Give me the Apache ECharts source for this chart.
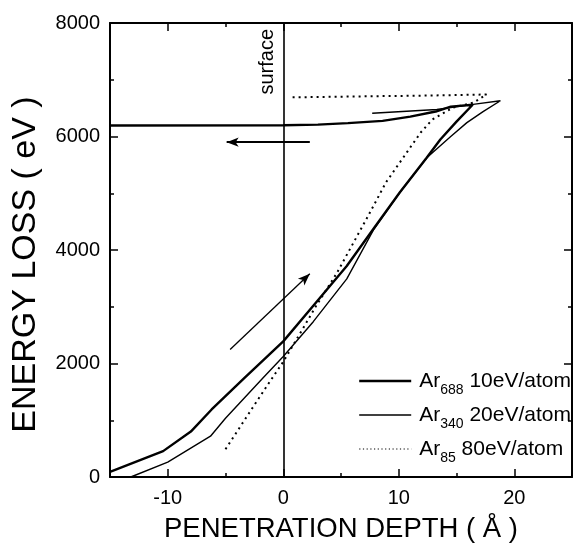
<!DOCTYPE html>
<html>
<head>
<meta charset="utf-8">
<script src="https://cdn.jsdelivr.net/npm/echarts@6/dist/echarts.min.js"></script>
<style>
html,body{margin:0;padding:0;background:#fff;}
#chart{width:573px;height:548px;}
</style>
</head>
<body>
<div id="chart"></div>
<script>
// ---- data ----
const xMajor = [-10, 0, 10, 20];
const xMinor = [-5, 5, 15];
const seriesNames = ['Ar688 10eV/atom', 'Ar340 20eV/atom', 'Ar85 80eV/atom'];
const legendMain = ['Ar', 'Ar', 'Ar'];
const legendSub = ['688', '340', '85'];
const legendRest = [' 10eV/atom', ' 20eV/atom', ' 80eV/atom'];

const ar688 = [[-15, 90], [-10.4, 456], [-8, 800], [-6.2, 1190], [-3.4, 1737], [0, 2390], [2.6, 3018], [5.5, 3719], [7.8, 4370], [10.1, 5017], [12.4, 5620], [13.6, 5947], [15, 6263], [16.4, 6560], [14.5, 6526], [13.2, 6440], [11, 6351], [8.6, 6275], [5.6, 6235], [3, 6210], [0, 6198], [-15, 6195]];
const ar340 = [[-13.2, 0], [-10, 263], [-6.3, 719], [-5, 1035], [-1.8, 1737], [0, 2123], [2.6, 2737], [5.5, 3491], [7.8, 4350], [10.1, 5017], [12.5, 5640], [14.5, 6000], [15.9, 6245], [17.3, 6439], [18.8, 6630], [16.6, 6570], [13.3, 6475], [7.7, 6410]];
const ar85 = [[-5, 490], [-2.4, 1300], [-1.1, 1700], [0, 2030], [1.7, 2614], [2.8, 3000], [4.6, 3580], [7.2, 4544], [8.9, 5193], [10.7, 5720], [11.9, 6070], [12.9, 6298], [14.7, 6509], [16.5, 6600], [17.6, 6740], [12, 6720], [6, 6705], [0.8, 6690]];

const surfaceX = 0;
const arrowIn = [[-4.6, 2246], [2.3, 3580]];
const arrowOut = [[2.3, 5900], [-4.9, 5900]];

// ---- chart ----
const FONT = '"Liberation Sans", Arial, Helvetica, sans-serif';
const chart = echarts.init(document.getElementById('chart'));

function xAx(pos, values, len, labels, withName) {
  return {
    type: 'value', position: pos, min: -15, max: 25, interval: 5,
    axisLine: { show: values === xMajor, onZero: false, lineStyle: { color: '#000', width: 2 } },
    axisTick: { show: true, inside: true, length: len, customValues: values, lineStyle: { color: '#000', width: 1.5 } },
    axisLabel: { show: labels, customValues: values, margin: 11, color: '#000', fontSize: 20, fontFamily: FONT },
    splitLine: { show: false },
    name: withName ? 'PENETRATION DEPTH ( Å )' : '',
    nameLocation: 'middle', nameGap: 38,
    nameTextStyle: { color: '#000', fontSize: 27.5, fontFamily: FONT }
  };
}
function yAx(pos, labels) {
  return {
    type: 'value', position: pos, min: 0, max: 8000, interval: 2000,
    axisLine: { show: true, onZero: false, lineStyle: { color: '#000', width: 2 } },
    axisTick: { show: true, inside: true, length: 8, lineStyle: { color: '#000', width: 1.5 } },
    minorTick: { show: true, splitNumber: 2, length: 4, lineStyle: { color: '#000', width: 1.5 } },
    axisLabel: { show: labels, margin: 10, color: '#000', fontSize: 20, fontFamily: FONT, formatter: function (v) { return String(v); } },
    splitLine: { show: false },
    name: labels ? 'ENERGY LOSS ( eV )' : '',
    nameLocation: 'middle', nameGap: 67,
    nameTextStyle: { color: '#000', fontSize: 34, fontFamily: FONT, padding: [0, 29, 0, 0] }
  };
}

const thick = { color: '#000', width: 2.4 };
const thin = { color: '#000', width: 1.4 };
const dots = { color: '#000', width: 2, type: [2, 4] };

const option = {
  animation: false,
  backgroundColor: '#fff',
  grid: { left: 110, right: 1, top: 23, bottom: 69, containLabel: false },
  xAxis: [
    xAx('bottom', xMajor, 8, true, true),
    xAx('bottom', xMinor, 4, false, false),
    xAx('top', xMajor, 8, false, false),
    xAx('top', xMinor, 4, false, false)
  ],
  yAxis: [yAx('left', true), yAx('right', false)],
  legend: {
    data: [
      { name: seriesNames[0], lineStyle: { width: 2.4 } },
      { name: seriesNames[1], lineStyle: { width: 1.4 } },
      { name: seriesNames[2], lineStyle: { width: 1.2, type: [1.2, 2.5] } }
    ],
    orient: 'vertical',
    left: 358, top: 364, padding: 0,
    itemWidth: 52, itemHeight: 14, itemGap: 0,
    itemStyle: { opacity: 0 },
    formatter: function (name) {
      const i = seriesNames.indexOf(name);
      return '{m|' + legendMain[i] + '}{s|' + legendSub[i] + '}{m|' + legendRest[i] + '}';
    },
    textStyle: {
      color: '#000', fontSize: 21, fontFamily: FONT, lineHeight: 34, padding: [0, 0, 0, 3],
      rich: {
        m: { color: '#000', fontSize: 21, fontFamily: FONT, lineHeight: 34 },
        s: { color: '#000', fontSize: 14, fontFamily: FONT, lineHeight: 14, padding: [19, 0, 0, 0] }
      }
    }
  },
  series: [
    { name: seriesNames[0], type: 'line', data: ar688, symbol: 'none', lineStyle: thick, itemStyle: { color: '#000' }, z: 3 },
    { name: seriesNames[1], type: 'line', data: ar340, symbol: 'none', lineStyle: thin, itemStyle: { color: '#000' }, z: 3 },
    { name: seriesNames[2], type: 'line', data: ar85, symbol: 'none', lineStyle: dots, itemStyle: { color: '#000' }, z: 3 },
    {
      name: 'annotations', type: 'line', data: [], symbol: 'none',
      markLine: {
        silent: true, animation: false,
        lineStyle: { color: '#000', width: 1.6, type: 'solid' },
        data: [
          [{ coord: [surfaceX, 0], symbol: 'none',
             label: { show: true, position: 'insideEndTop', formatter: 'surface', color: '#000', fontSize: 20, fontFamily: FONT, distance: 6 } },
           { coord: [surfaceX, 8000], symbol: 'none' }],
          [{ coord: arrowIn[0], symbol: 'none', label: { show: false }, lineStyle: { width: 1.3 } },
           { coord: arrowIn[1], symbol: 'arrow', symbolSize: [7, 12] }],
          [{ coord: arrowOut[0], symbol: 'none', label: { show: false }, lineStyle: { width: 1.8 } },
           { coord: arrowOut[1], symbol: 'arrow', symbolSize: [7, 12] }]
        ]
      }
    }
  ]
};
chart.setOption(option);
</script>
</body>
</html>
